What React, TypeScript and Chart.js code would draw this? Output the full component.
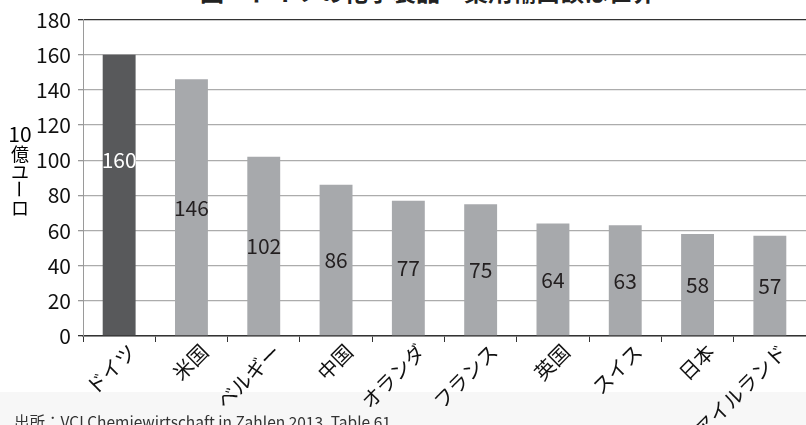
import React, { useEffect, useRef } from "react";
import { Chart, registerables } from "chart.js";

Chart.register(...registerables);

const titleText = "図　ドイツの化学製品・薬剤輸出額は世界一";
const sourceText = "出所：VCI Chemiewirtschaft in Zahlen 2013, Table 61";
const axisTitleParts = ["10", "億", "ユ", "ー", "ロ"];

const categories = ["ドイツ", "米国", "ベルギー", "中国", "オランダ", "フランス", "英国", "スイス", "日本", "アイルランド"];
const exportValues = [160, 146, 102, 86, 77, 75, 64, 63, 58, 57];
const yMin = 0;
const yMax = 180;
const yStep = 20;
const highlightLabelValue = 100;

const CJK = '"Noto Sans CJK JP", "Noto Sans", sans-serif';

const valueLabelPlugin = {
  id: "valueLabels",
  afterDatasetsDraw(chart: any) {
    const { ctx } = chart;
    const meta = chart.getDatasetMeta(0);
    const yScale = chart.scales.y;
    ctx.save();
    ctx.font = `21px ${CJK}`;
    ctx.textAlign = "center";
    ctx.textBaseline = "middle";
    meta.data.forEach((bar: any, i: number) => {
      const v = exportValues[i];
      const anchor = i === 0 ? highlightLabelValue : v / 2;
      ctx.fillStyle = i === 0 ? "#ffffff" : "#231f20";
      ctx.fillText(String(v), bar.x, yScale.getPixelForValue(anchor));
    });
    ctx.restore();
  },
};

const categoryLabelPlugin = {
  id: "categoryLabels",
  afterDraw(chart: any) {
    const { ctx } = chart;
    const xScale = chart.scales.x;
    const baseY = chart.chartArea.bottom;
    ctx.save();
    ctx.font = `20px ${CJK}`;
    ctx.fillStyle = "#111111";
    ctx.textAlign = "right";
    ctx.textBaseline = "middle";
    categories.forEach((c, i) => {
      const x = xScale.getPixelForValue(i);
      ctx.save();
      ctx.translate(x + 13, baseY + 12);
      ctx.rotate(-Math.PI / 4);
      ctx.fillText(c, 0, 0);
      ctx.restore();
    });
    ctx.restore();
  },
};

export default function App() {
  const canvasRef = useRef<HTMLCanvasElement | null>(null);

  useEffect(() => {
    if (!canvasRef.current) return;
    const chart = new Chart(canvasRef.current, {
      type: "bar",
      data: {
        labels: categories,
        datasets: [
          {
            data: exportValues,
            backgroundColor: exportValues.map((_, i) => (i === 0 ? "#58595b" : "#a7a9ac")),
            borderWidth: 0,
            categoryPercentage: 1,
            barPercentage: 0.455,
          },
        ],
      },
      options: {
        animation: false,
        responsive: false,
        maintainAspectRatio: false,
        layout: { padding: { left: 0, right: 0, top: 16, bottom: 0 } },
        plugins: {
          legend: { display: false },
          tooltip: { enabled: false },
          title: { display: false },
        },
        scales: {
          x: {
            afterFit: (scale: any) => {
              scale.height = 89;
              scale.paddingLeft = 0;
              scale.paddingRight = 0;
            },
            grid: {
              display: true,
              drawOnChartArea: false,
              drawTicks: true,
              tickLength: 6,
              color: "#333333",
              lineWidth: 1,
              offset: true,
            },
            border: { display: true, color: "#333333", width: 1.5 },
            ticks: {
              display: false,
              autoSkip: false,
            },
          },
          y: {
            min: yMin,
            max: yMax,
            afterFit: (scale: any) => {
              scale.width = 83;
            },
            grid: {
              color: (c: any) => (c.tick && c.tick.value === yMax ? "#333333" : "#acacac"),
              tickColor: (c: any) => (c.tick && (c.tick.value === yMax || c.tick.value === yMin) ? "#333333" : "#999999"),
              lineWidth: 1.3,
              drawTicks: true,
              tickLength: 5,
            },
            border: { display: true, color: "#9a9a9a", width: 1 },
            ticks: {
              stepSize: yStep,
              color: "#111111",
              padding: 7,
              font: { family: CJK, size: 21 },
            },
          },
        },
      },
      plugins: [valueLabelPlugin, categoryLabelPlugin],
    });
    return () => chart.destroy();
  }, []);

  return (
    <div
      style={{
        position: "absolute",
        left: 0,
        top: 0,
        width: 806,
        height: 425,
        overflow: "hidden",
        background: "#ffffff",
        fontFamily: CJK,
      }}
    >
      <div style={{ position: "absolute", left: 0, top: 392, width: 806, height: 33, background: "#f7f7f7" }} />
      <div
        style={{
          position: "absolute",
          left: 0,
          top: -21,
          width: 880,
          textAlign: "center",
          fontSize: 24,
          lineHeight: "24px",
          fontWeight: 700,
          color: "#222",
          whiteSpace: "nowrap",
        }}
      >
        {titleText}
      </div>
      <canvas ref={canvasRef} width={806} height={425} style={{ position: "absolute", left: 0, top: 0 }} />
      <div
        style={{
          position: "absolute",
          left: 5,
          top: 123,
          width: 30,
          textAlign: "center",
          fontWeight: 400,
          color: "#000000",
        }}
      >
        {axisTitleParts.map((p, i) => (
          <div key={i} style={{ fontSize: i === 0 ? 21 : 18, lineHeight: i === 0 ? "21px" : "18px" }}>
            <span style={{ display: "inline-block", transform: p === "ー" ? "rotate(90deg)" : undefined }}>{p}</span>
          </div>
        ))}
      </div>
      <div
        style={{
          position: "absolute",
          left: 14,
          top: 412,
          fontSize: 15.5,
          lineHeight: "18px",
          color: "#333",
          whiteSpace: "nowrap",
        }}
      >
        {sourceText}
      </div>
    </div>
  );
}
